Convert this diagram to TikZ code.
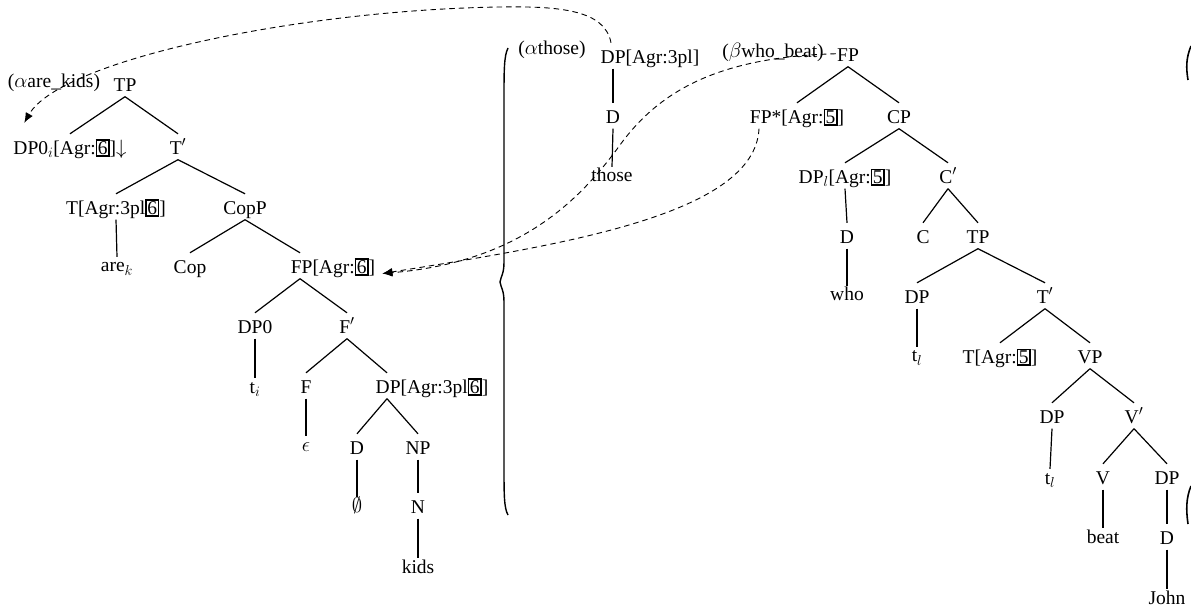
\documentclass[tikz,border=0pt]{standalone}
\usepackage{fontspec}
\setmainfont{Liberation Serif}
\usetikzlibrary{arrows.meta}
\newcommand\bxn[1]{{\setlength{\fboxsep}{0.6pt}\setlength{\fboxrule}{1.5pt}\fbox{#1}}}
\begin{document}
\begin{tikzpicture}[x=1pt,y=-1pt, font=\fontsize{19.5}{22}\selectfont,
  lbl/.style={inner sep=1pt, text height=19.5pt, text depth=4pt, anchor=base},
  lf/.style={inner sep=1pt, text height=14pt, text depth=4pt, anchor=base},
  edge/.style={line width=1.2pt},
  mv/.style={line width=0.9pt, dash pattern=on 5.5pt off 4pt, -{Latex[length=10pt,width=8pt]}}]
\useasboundingbox (0,0) rectangle (1191,609);
% left tree
\node[lbl] (alab) at (54,88) {($\alpha$are\_kids)};
\node[lbl] (tp) at (125,91.5) {TP};
\node[lbl] (dpzero) at (70,154.5) {DP0$_i$[Agr:\bxn{6}]$\downarrow$};
\node[lbl] (tbar) at (178,154.5) {T$'$};
\node[lbl] (tagr) at (116,214.5) {T[Agr:3pl\bxn{6}]};
\node[lbl] (copp) at (245,214.5) {CopP};
\node[lf] (are) at (117,272) {are$_k$};
\node[lbl] (cop) at (190,273.5) {Cop};
\node[lbl] (fpsix) at (333,273.5) {FP[Agr:\bxn{6}]};
\node[lbl] (dpzb) at (255,333.5) {DP0};
\node[lbl] (fbar) at (347,333.5) {F$'$};
\node[lf] (ti) at (255,393) {t$_i$};
\node[lbl] (f) at (306,393.5) {F};
\node[lbl] (dpthree) at (432,393.5) {DP[Agr:3pl\bxn{6}]};
\node[lf] (eps) at (306,451) {$\epsilon$};
\node[lbl] (dl) at (357,454.5) {D};
\node[lbl] (np) at (418,454.5) {NP};
\node[lf] (empt) at (357,512) {$\emptyset$};
\node[lbl] (n) at (418,513.5) {N};
\node[lf] (kids) at (418,573) {kids};
\draw[edge] (tp.south) -- (dpzero.north);
\draw[edge] (tp.south) -- (tbar.north);
\draw[edge] (tbar.south) -- (tagr.north);
\draw[edge] (tbar.south) -- (copp.north);
\draw[edge] (tagr.south) -- (are.north);
\draw[edge] (copp.south) -- (cop.north);
\draw[edge] (copp.south) -- ([xshift=-33pt]fpsix.north);
\draw[edge] ([xshift=-33pt]fpsix.south) -- (dpzb.north);
\draw[edge] ([xshift=-33pt]fpsix.south) -- (fbar.north);
\draw[edge] (dpzb.south) -- (ti.north);
\draw[edge] (fbar.south) -- (f.north);
\draw[edge] (fbar.south) -- ([xshift=-45pt]dpthree.north);
\draw[edge] (f.south) -- (eps.north);
\draw[edge] ([xshift=-45pt]dpthree.south) -- (dl.north);
\draw[edge] ([xshift=-45pt]dpthree.south) -- (np.north);
\draw[edge] (dl.south) -- (empt.north);
\draw[edge] (np.south) -- (n.north);
\draw[edge] (n.south) -- (kids.north);
% middle tree
\node[lbl] (athose) at (552,55) {($\alpha$those)};
\node[lbl] (dpagr) at (650,63.5) {DP[Agr:3pl]};
\node[lbl] (dm) at (613,123.5) {D};
\node[lf] (those) at (612,182) {those};
\draw[edge] ([xshift=-37pt]dpagr.south) -- (dm.north);
\draw[edge] (dm.south) -- (those.north);
% right tree
\node[lbl] (bwho) at (773,58) {($\beta$who\_beat)};
\node[lbl] (fp) at (848,61.5) {FP};
\node[lbl] (fpstar) at (797,123.5) {FP*[Agr:\bxn{5}]};
\node[lbl] (cp) at (899,123.5) {CP};
\node[lbl] (dpl) at (845,183.5) {DP$_l$[Agr:\bxn{5}]};
\node[lbl] (cbar) at (948,183.5) {C$'$};
\node[lbl] (dr) at (847,243.5) {D};
\node[lbl] (c) at (923,243.5) {C};
\node[lbl] (tpr) at (978,243.5) {TP};
\node[lf] (who) at (847,301) {who};
\node[lbl] (dpr) at (917,303.5) {DP};
\node[lbl] (tbr) at (1045,303.5) {T$'$};
\node[lf] (tlone) at (917,362) {t$_l$};
\node[lbl] (tagrf) at (1000,363.5) {T[Agr:\bxn{5}]};
\node[lbl] (vp) at (1090,363.5) {VP};
\node[lbl] (dpv) at (1052,423.5) {DP};
\node[lbl] (vbar) at (1134,423.5) {V$'$};
\node[lf] (tltwo) at (1050,484) {t$_l$};
\node[lbl] (v) at (1103,484.5) {V};
\node[lbl] (dpj) at (1167,484.5) {DP};
\node[lf] (beat) at (1103,543) {beat};
\node[lbl] (dj) at (1167,544.5) {D};
\node[lf] (john) at (1167,604) {John};
\draw[edge] (fp.south) -- (fpstar.north);
\draw[edge] (fp.south) -- (cp.north);
\draw[edge] (cp.south) -- (dpl.north);
\draw[edge] (cp.south) -- (cbar.north);
\draw[edge] (dpl.south) -- (dr.north);
\draw[edge] (dr.south) -- (who.north);
\draw[edge] (cbar.south) -- (c.north);
\draw[edge] (cbar.south) -- (tpr.north);
\draw[edge] (tpr.south) -- (dpr.north);
\draw[edge] (tpr.south) -- (tbr.north);
\draw[edge] (dpr.south) -- (tlone.north);
\draw[edge] (tbr.south) -- (tagrf.north);
\draw[edge] (tbr.south) -- (vp.north);
\draw[edge] (vp.south) -- (dpv.north);
\draw[edge] (vp.south) -- (vbar.north);
\draw[edge] (dpv.south) -- (tltwo.north);
\draw[edge] (vbar.south) -- (v.north);
\draw[edge] (vbar.south) -- (dpj.north);
\draw[edge] (v.south) -- (beat.north);
\draw[edge] (dpj.south) -- (dj.north);
\draw[edge] (dj.south) -- (john.north);
% dashed substitution arrows
\draw[mv] ([xshift=-39pt]dpagr.north) .. controls (605,10) and (560,6) .. (500,7) .. controls (300,10) and (60,60) .. ([shift={(12pt,11pt)}]dpzero.north west);
\draw[mv] (fp.west) .. controls (720,57) and (660,90) .. (620,145) .. controls (580,200) and (520,262) .. ([xshift=6pt]fpsix.base east);
\draw[mv] ([xshift=-38pt]fpstar.south) .. controls (755,215) and (560,245) .. ([xshift=6pt]fpsix.base east);
% brace and right-hand strokes
\draw[line width=1.4pt] (508,48) .. controls (504,56) and (504,70) .. (504,100) -- (504,262) .. controls (504,274) and (501,276) .. (500,282) .. controls (501,288) and (504,290) .. (504,302) -- (504,465) .. controls (504,495) and (504,508) .. (508,515);
\draw[line width=1.6pt] (1191,46) .. controls (1186,58) and (1186,68) .. (1188,80);
\draw[line width=1.6pt] (1191,486) .. controls (1186,498) and (1186,510) .. (1188,524);
\end{tikzpicture}
\end{document}
